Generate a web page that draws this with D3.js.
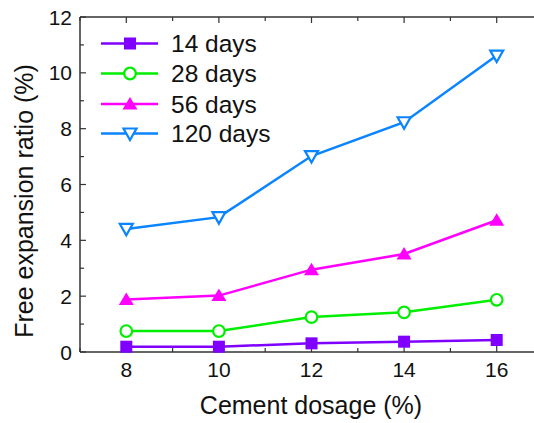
<!DOCTYPE html>
<html><head><meta charset="utf-8">
<script src="https://cdn.jsdelivr.net/npm/d3@7"></script>
<style>body{margin:0;background:#fff}svg{display:block}text{font-family:"Liberation Sans",Arial,sans-serif;fill:#111}</style>
</head><body>
<svg id="c" width="534" height="423"></svg>
<script>
const dosage = [8, 10, 12, 14, 16];
const days14 = [0.19, 0.19, 0.31, 0.37, 0.43];
const days28 = [0.75, 0.75, 1.25, 1.42, 1.87];
const days56 = [1.88, 2.02, 2.95, 3.51, 4.72];
const days120 = [4.41, 4.83, 7.02, 8.23, 10.62];
const seriesNames = ["14 days", "28 days", "56 days", "120 days"];
const xTicks = [8, 10, 12, 14, 16];
const yTicks = [0, 2, 4, 6, 8, 10, 12];

const colors = ["#7f00ff", "#00ee00", "#ff00ff", "#0a84ff"];
const symbols = ["square", "circle", "triangle", "triangleDown"];
const values = [days14, days28, days56, days120];

const svg = d3.select("#c");
const x = d3.scaleLinear().domain([7, 17]).range([80, 543]);
const y = d3.scaleLinear().domain([0, 12]).range([352, 17]);

const g = svg.append("g");
const axisColor = "#333";
g.append("line").attr("x1", x(7)).attr("x2", 534).attr("y1", y(0)).attr("y2", y(0)).attr("stroke", axisColor).attr("stroke-width", 1.5);
g.append("line").attr("x1", x(7)).attr("x2", 534).attr("y1", y(12)).attr("y2", y(12)).attr("stroke", axisColor).attr("stroke-width", 1.5);
g.append("line").attr("x1", x(7)).attr("x2", x(7)).attr("y1", y(0)).attr("y2", y(12)).attr("stroke", axisColor).attr("stroke-width", 1.5);

d3.range(0, 13, 1).forEach(v => {
  const major = v % 2 === 0;
  g.append("line").attr("x1", x(7)).attr("x2", x(7) + (major ? 6 : 4)).attr("y1", y(v)).attr("y2", y(v)).attr("stroke", axisColor).attr("stroke-width", 1.2);
});
yTicks.forEach(v => {
  g.append("text").attr("x", 72).attr("y", y(v)).attr("dy", "0.36em").attr("text-anchor", "end").attr("font-size", 21).text(v);
});
d3.range(7, 18, 1).forEach(v => {
  const major = v % 2 === 0;
  const L = major ? 6 : 4;
  g.append("line").attr("x1", x(v)).attr("x2", x(v)).attr("y1", y(0)).attr("y2", y(0) - L).attr("stroke", axisColor).attr("stroke-width", 1.2);
  g.append("line").attr("x1", x(v)).attr("x2", x(v)).attr("y1", y(12)).attr("y2", y(12) + L).attr("stroke", axisColor).attr("stroke-width", 1.2);
});
xTicks.forEach(v => {
  g.append("text").attr("x", x(v)).attr("y", 377).attr("text-anchor", "middle").attr("font-size", 21).text(v);
});

g.append("text").attr("x", 311).attr("y", 414).attr("text-anchor", "middle").attr("font-size", 25).text("Cement dosage (%)");
g.append("text").attr("transform", "translate(33,201) rotate(-90)").attr("text-anchor", "middle").attr("font-size", 25).text("Free expansion ratio (%)");

function marker(sel, i) {
  const c = colors[i];
  if (symbols[i] === "square") {
    sel.append("rect").attr("x", -6).attr("y", -6).attr("width", 12).attr("height", 12).attr("fill", c);
  } else if (symbols[i] === "circle") {
    sel.append("circle").attr("r", 5.8).attr("fill", "#fff").attr("stroke", c).attr("stroke-width", 2.2);
  } else if (symbols[i] === "triangle") {
    sel.append("path").attr("d", "M0,-7 L7.5,5.5 L-7.5,5.5 Z").attr("fill", c);
  } else {
    sel.append("path").attr("d", "M-6.5,-5 L6.5,-5 L0,6.5 Z").attr("fill", "#fff").attr("stroke", c).attr("stroke-width", 2.2);
  }
}

const line = d3.line().x((d, i) => x(dosage[i])).y(d => y(d));
values.forEach((vals, i) => {
  g.append("path").datum(vals).attr("d", line).attr("fill", "none").attr("stroke", colors[i]).attr("stroke-width", 2.5);
  vals.forEach((v, j) => {
    const m = g.append("g").attr("transform", `translate(${x(dosage[j])},${y(v)})`);
    marker(m, i);
  });
});

const legY = [43.5, 73.5, 104, 133.5];
seriesNames.forEach((name, i) => {
  g.append("line").attr("x1", 101).attr("x2", 158).attr("y1", legY[i]).attr("y2", legY[i]).attr("stroke", colors[i]).attr("stroke-width", 2.5);
  const m = g.append("g").attr("transform", `translate(130,${legY[i]})`);
  marker(m, i);
  g.append("text").attr("x", 171).attr("y", legY[i]).attr("dy", "0.36em").attr("font-size", 24.5).text(name);
});
</script>
</body></html>
